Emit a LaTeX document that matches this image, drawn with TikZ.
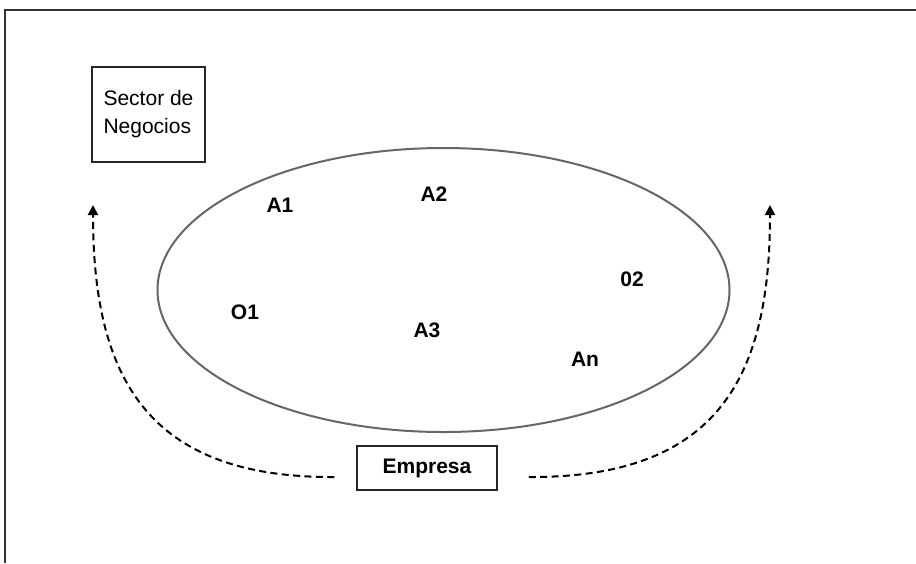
\documentclass[tikz,border=0pt]{standalone}
\usepackage{fontspec}
\setmainfont{Liberation Sans}
\usetikzlibrary{shapes.geometric, arrows.meta, positioning}
\tikzstyle{caja}   = [rectangle, draw=black!85, line width=0.75pt, inner sep=0pt, font=\fontsize{10.5}{14}\selectfont]
\tikzstyle{campo}  = [ellipse, draw=black!60, line width=1pt, inner sep=0pt, minimum width=286pt, minimum height=142pt]
\tikzstyle{actor}  = [font=\bfseries\fontsize{10.5}{13}\selectfont]
\tikzstyle{flujo}  = [-{Triangle[length=5pt,width=5pt]}, line width=1pt, dash pattern=on 3.5pt off 2.2pt]

\begin{document}
\begin{tikzpicture}[x=0.5pt, y=-0.5pt]
    \useasboundingbox (0,0) rectangle (916,563);
    \draw [line width=1pt, black!80] (5,563) -- (5,10) -- (916,10);

    \node (sector) [caja, minimum width=56.5pt, minimum height=47.5pt, align=left] at (148.5,114.5) {Sector de\\Negocios};
    \node (campo) [campo] at (443.5,290) {};
    \node (empresa) [caja, actor, minimum width=70pt, minimum height=22pt] at (427,468) {Empresa};

    \node (a1) [actor] at (280,205) {A1};
    \node (a2) [actor] at (434,194) {A2};
    \node (o2) [actor] at (632,279) {02};
    \node (o1) [actor] at (245,312) {O1};
    \node (a3) [actor] at (427,330) {A3};
    \node (an) [actor] at (585,359) {An};

    \coordinate (izq) at (93,205);
    \coordinate (der) at (770,205);

    \draw [flujo] ([xshift=-11pt, yshift=-4.5pt]empresa.west) .. controls (145,478) and (93,375) .. (izq);
    \draw [flujo] ([xshift=15.5pt, yshift=-4.5pt]empresa.east) .. controls (720,478) and (770,375) .. (der);
  \end{tikzpicture}
\end{document}
